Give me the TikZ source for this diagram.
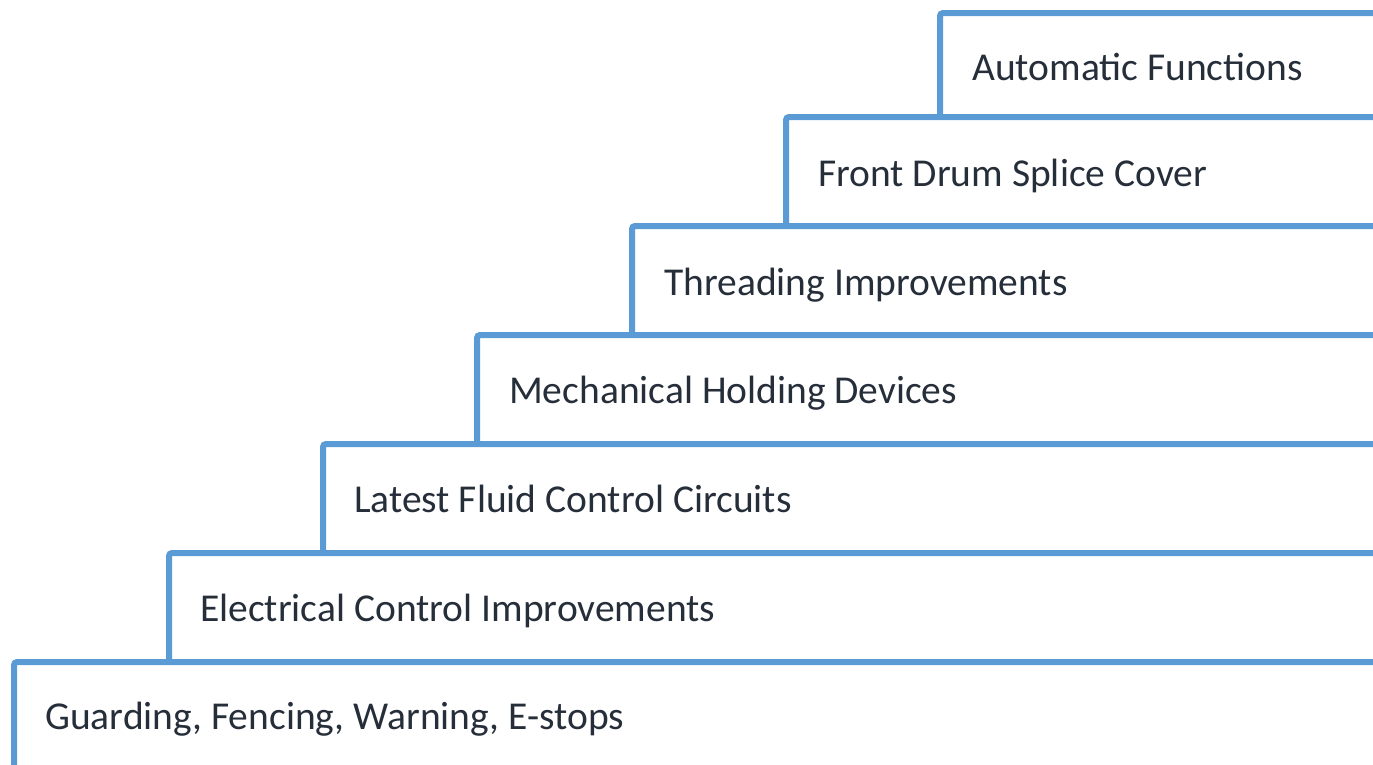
\documentclass[tikz,border=0pt]{standalone}
\usepackage{fontspec}
\setmainfont{Carlito}
\definecolor{stepblue}{RGB}{91,155,213}
\definecolor{steptext}{RGB}{38,46,58}
\tikzset{
  stepline/.style={draw=stepblue, line width=6pt, rounded corners=3pt},
  steplabel/.style={anchor=base west, inner sep=0pt, text=steptext, font=\fontsize{39.5}{47}\selectfont}
}
\begin{document}
\begin{tikzpicture}[x=1pt,y=-1pt]
\useasboundingbox (0,0) rectangle (1373,764);
\clip (0,0) rectangle (1373,764);
% steps: x positions and tops
\draw[stepline] (940,117) -- (940,13) -- (1390,13);
\draw[stepline] (786,226) -- (786,117) -- (1390,117);
\draw[stepline] (632,335) -- (632,226) -- (1390,226);
\draw[stepline] (477,444) -- (477,335) -- (1390,335);
\draw[stepline] (323,553) -- (323,444) -- (1390,444);
\draw[stepline] (169,662) -- (169,553) -- (1390,553);
\draw[stepline] (14,780) -- (14,662) -- (1390,662);
\node[steplabel] (s7) at (972,80) {Automatic Functions};
\node[steplabel] (s6) at (818,186) {Front Drum Splice Cover};
\node[steplabel] (s5) at (664,295) {Threading Improvements};
\node[steplabel] (s4) at (509,403) {Mechanical Holding Devices};
\node[steplabel] (s3) at (354,512) {Latest Fluid Control Circuits};
\node[steplabel] (s2) at (200,621) {Electrical Control Improvements};
\node[steplabel] (s1) at (45,729) {Guarding, Fencing, Warning, E-stops};
\end{tikzpicture}
\end{document}
